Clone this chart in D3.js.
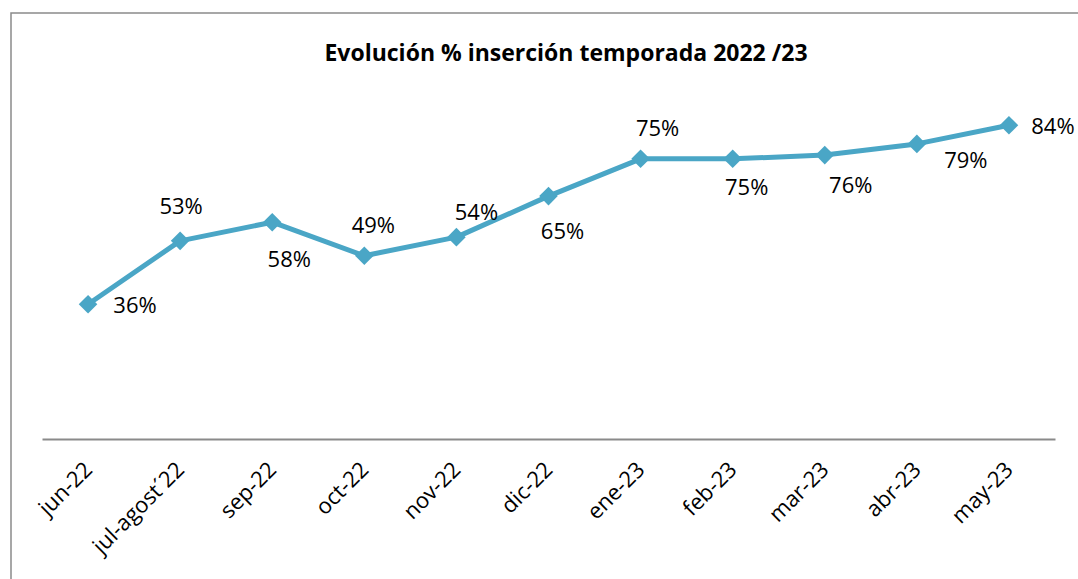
<!DOCTYPE html>
<html>
<head>
<meta charset="utf-8">
<script src="https://cdn.jsdelivr.net/npm/d3@7"></script>
<style>
  body { margin: 0; background: #fff; }
  text { font-family: "Open Sans", "Noto Sans", sans-serif; fill: #000; }
</style>
</head>
<body>
<div class="graph"></div>
<script>
var months = ["jun-22", "jul-agost\u00b422", "sep-22", "oct-22", "nov-22", "dic-22",
              "ene-23", "feb-23", "mar-23", "abr-23", "may-23"];
var insercion = [0.36, 0.53, 0.58, 0.49, 0.54, 0.65, 0.75, 0.75, 0.76, 0.79, 0.84];
var titleText = "Evoluci\u00f3n % inserci\u00f3n temporada 2022 /23";

// where each data label sits relative to its point
var labelOffsets = [[47, 1], [1, -35], [17, 37], [9, -30], [20, -25], [14, 35],
                    [17, -31], [14, 28], [26, 30], [49, 16], [44, 1]];

var width = 1078;
var height = 579;
var lineColor = "#4aa6c6";

var svg = d3.select(".graph").append("svg")
  .attr("width", width)
  .attr("height", height);

// chart frame
svg.append("rect")
  .attr("x", 11)
  .attr("y", 13)
  .attr("width", 1100)
  .attr("height", 620)
  .attr("fill", "none")
  .attr("stroke", "#8a8a8a")
  .attr("stroke-width", 1.5);

var x = d3.scalePoint()
  .domain(months)
  .range([42, 1055])
  .padding(0.5);

var y = d3.scaleLinear()
  .domain([0, 1])
  .range([438.5, 65.6]);

// x axis
var xAxis = d3.axisBottom(x).tickSize(0).tickPadding(0);
var xAxisGroup = svg.append("g")
  .attr("transform", "translate(0,439)")
  .call(xAxis);

xAxisGroup.select(".domain")
  .attr("stroke", "#8a8a8a")
  .attr("stroke-width", 2);

xAxisGroup.selectAll(".tick text")
  .attr("y", 0)
  .attr("dy", 0)
  .attr("font-size", 22)
  .style("font-family", "'Open Sans', sans-serif")
  .attr("fill", "#000")
  .attr("text-anchor", "end")
  .attr("transform", "translate(5,32) rotate(-45)");

svg.append("text")
  .attr("x", 566)
  .attr("y", 61)
  .attr("text-anchor", "middle")
  .attr("font-size", 23)
  .attr("font-weight", "bold")
  .text(titleText);

var line = d3.line()
  .x(function (d, i) { return x(months[i]); })
  .y(function (d) { return y(d); });

svg.append("path")
  .datum(insercion)
  .attr("fill", "none")
  .attr("stroke", lineColor)
  .attr("stroke-width", 5)
  .attr("stroke-linejoin", "round")
  .attr("d", line);

svg.selectAll(".marker")
  .data(insercion)
  .enter().append("path")
  .attr("class", "marker")
  .attr("d", d3.symbol().type(d3.symbolDiamond2).size(220))
  .attr("transform", function (d, i) {
    return "translate(" + x(months[i]) + "," + y(d) + ")";
  })
  .attr("fill", lineColor);

svg.selectAll(".label")
  .data(insercion)
  .enter().append("text")
  .attr("class", "label")
  .attr("x", function (d, i) { return x(months[i]) + labelOffsets[i][0]; })
  .attr("y", function (d, i) { return y(d) + labelOffsets[i][1]; })
  .attr("dy", "0.35em")
  .attr("text-anchor", "middle")
  .attr("font-size", 22)
  .text(function (d) { return Math.round(d * 100) + "%"; });
</script>
</body>
</html>
